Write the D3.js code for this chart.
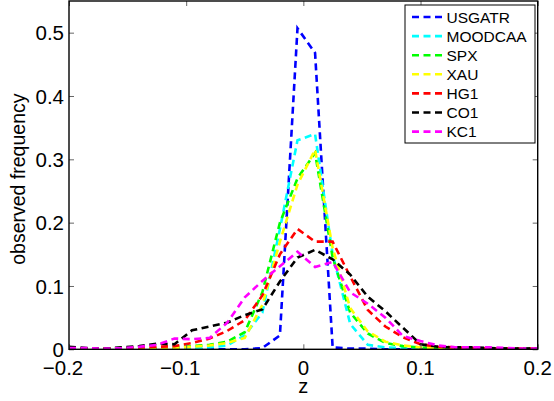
<!DOCTYPE html>
<html>
<head>
<meta charset="utf-8">
<script src="https://cdn.jsdelivr.net/npm/d3@7"></script>
<style>
  body { margin: 0; background: #fff; }
  svg { display: block; font-family: 'Liberation Sans', Arial, sans-serif; }
</style>
</head>
<body>
<svg id="chart" width="554" height="401"></svg>
<script>
// bin centres (z), shared by every series
const zBins = [-0.2, -0.185, -0.17, -0.155, -0.14, -0.125, -0.11, -0.095, -0.08, -0.065,
    -0.05, -0.035, -0.02, -0.005, 0.01, 0.025, 0.04, 0.055, 0.07, 0.085,
    0.1, 0.115, 0.13, 0.145, 0.16, 0.175, 0.19, 0.205];

const seriesNames = ['USGATR', 'MOODCAA', 'SPX', 'XAU', 'HG1', 'CO1', 'KC1'];
const seriesColors = ['#0000ff', '#00ffff', '#00ff00', '#ffff00', '#ff0000', '#000000', '#ff00ff'];

const usgatr = [0, 0, 0, 0, 0, 0, 0, 0, 0, 0,
    0, 0.002, 0.022, 0.507, 0.468, 0.003, 0.001, 0.001, 0, 0,
    0, 0, 0, 0, 0, 0, 0, 0];
const moodcaa = [0.001, 0.001, 0, 0, 0, 0, 0.001, 0.002, 0.003, 0.006,
    0.022, 0.058, 0.19, 0.33, 0.34, 0.15, 0.04, 0.007, 0.003, 0.002,
    0.001, 0.001, 0.001, 0, 0, 0, 0, 0];
const spx = [0.001, 0.001, 0.001, 0.001, 0.001, 0.002, 0.003, 0.005, 0.007, 0.012,
    0.027, 0.09, 0.2, 0.27, 0.31, 0.145, 0.058, 0.025, 0.01, 0.005,
    0.003, 0.002, 0.002, 0.001, 0.001, 0.001, 0.001, 0.001];
const xau = [0.001, 0.001, 0.001, 0.001, 0.001, 0.002, 0.002, 0.004, 0.006, 0.01,
    0.018, 0.07, 0.17, 0.26, 0.315, 0.16, 0.065, 0.028, 0.012, 0.006,
    0.003, 0.002, 0.001, 0.001, 0.001, 0, 0, 0];
const hg1 = [0.002, 0.001, 0.001, 0.002, 0.003, 0.004, 0.005, 0.01, 0.017, 0.029,
    0.046, 0.085, 0.15, 0.19, 0.17, 0.17, 0.115, 0.062, 0.036, 0.019,
    0.008, 0.004, 0.003, 0.002, 0.001, 0.001, 0.001, 0.001];
const co1 = [0.004, 0.002, 0.001, 0.003, 0.005, 0.009, 0.008, 0.03, 0.036, 0.042,
    0.054, 0.063, 0.107, 0.145, 0.157, 0.142, 0.118, 0.083, 0.06, 0.034,
    0.008, 0.004, 0.003, 0.003, 0.002, 0.001, 0.001, 0.001];
const kc1 = [0.002, 0.002, 0.001, 0.002, 0.004, 0.007, 0.017, 0.016, 0.018, 0.042,
    0.082, 0.108, 0.131, 0.154, 0.13, 0.138, 0.09, 0.072, 0.05, 0.021,
    0.013, 0.006, 0.003, 0.003, 0.003, 0.002, 0.001, 0.001];

const seriesValues = [usgatr, moodcaa, spx, xau, hg1, co1, kc1];

const xTicks = [-0.2, -0.1, 0, 0.1, 0.2];
const yTicks = [0, 0.1, 0.2, 0.3, 0.4, 0.5];

const margin = { top: 1, right: 16.3, bottom: 51.7, left: 69 };
const width = 554 - margin.left - margin.right;
const height = 401 - margin.top - margin.bottom;

const svg = d3.select('#chart');
const g = svg.append('g')
    .attr('transform', `translate(${margin.left},${margin.top})`);

const x = d3.scaleLinear().domain([-0.2, 0.2]).range([0, width]);
const y = d3.scaleLinear().domain([0, 0.55]).range([height, 0]);

g.append('clipPath')
    .attr('id', 'plot-clip')
    .append('rect')
        .attr('width', width)
        .attr('height', height);

// curves
const line = d3.line()
    .x((d, i) => x(zBins[i]))
    .y(d => y(d));

g.append('g')
    .attr('clip-path', 'url(#plot-clip)')
    .selectAll('path')
    .data(seriesValues)
    .enter()
    .append('path')
        .attr('d', line)
        .attr('fill', 'none')
        .attr('stroke', (d, i) => seriesColors[i])
        .attr('stroke-width', 2.6)
        .attr('stroke-dasharray', '7,4.5');

// axes, ticks pointing inwards on all four sides
const tickLen = 5;
g.append('g')
    .attr('transform', `translate(0,${height})`)
    .call(d3.axisBottom(x).tickValues(xTicks).tickSize(-tickLen).tickFormat(''));
g.append('g')
    .call(d3.axisTop(x).tickValues(xTicks).tickSize(-tickLen).tickFormat(''));
g.append('g')
    .call(d3.axisLeft(y).tickValues(yTicks).tickSize(-tickLen).tickFormat(''));
g.append('g')
    .attr('transform', `translate(${width},0)`)
    .call(d3.axisRight(y).tickValues(yTicks).tickSize(-tickLen).tickFormat(''));

g.selectAll('.domain').remove();
g.selectAll('.tick line').attr('stroke', '#666').attr('stroke-width', 1);

g.append('rect')
    .attr('width', width)
    .attr('height', height)
    .attr('fill', 'none')
    .attr('stroke', '#000')
    .attr('stroke-width', 1.4);

// tick labels; the digits sit centred on the tick, a minus is hung to the left
const fmt = v => (v === 0 ? '0' : d3.format('.1f')(Math.abs(v)));
const xLabels = g.append('g').attr('class', 'x-labels');
xTicks.forEach(v => {
    const t = xLabels.append('text')
        .attr('y', height + 26)
        .attr('font-size', 20.5)
        .attr('fill', '#000')
        .text(fmt(v));
    const w = t.node().getComputedTextLength();
    t.attr('x', x(v) + w / 2)
        .attr('text-anchor', 'end')
        .text((v < 0 ? '\u2212' : '') + fmt(v));
});

g.append('g')
    .selectAll('text')
    .data(yTicks)
    .enter()
    .append('text')
        .attr('x', -5)
        .attr('y', d => y(d))
        .attr('dy', '0.38em')
        .attr('text-anchor', 'end')
        .attr('font-size', 20.5)
        .text(d => fmt(d));

// axis titles
svg.append('text')
    .attr('x', margin.left + x(0))
    .attr('y', 393)
    .attr('text-anchor', 'middle')
    .attr('font-size', 20)
    .text('z');

svg.append('text')
    .attr('transform', `translate(25,${margin.top + height / 2 + 4}) rotate(-90)`)
    .attr('text-anchor', 'middle')
    .attr('font-size', 19.5)
    .text('observed frequency');

// legend
const legend = svg.append('g')
    .attr('transform', 'translate(405,5)');

legend.append('rect')
    .attr('width', 130)
    .attr('height', 138)
    .attr('fill', '#fff')
    .attr('stroke', '#000')
    .attr('stroke-width', 1);

const items = legend.selectAll('g.item')
    .data(seriesNames)
    .enter()
    .append('g')
        .attr('class', 'item')
        .attr('transform', (d, i) => `translate(0,${12 + i * 19.1})`);

items.append('line')
    .attr('x1', 7)
    .attr('x2', 39)
    .attr('stroke', (d, i) => seriesColors[i])
    .attr('stroke-width', 2.6)
    .attr('stroke-dasharray', '7,4.5');

items.append('text')
    .attr('x', 41.5)
    .attr('dy', '0.36em')
    .attr('font-size', 15.5)
    .text(d => d);
</script>
</body>
</html>
